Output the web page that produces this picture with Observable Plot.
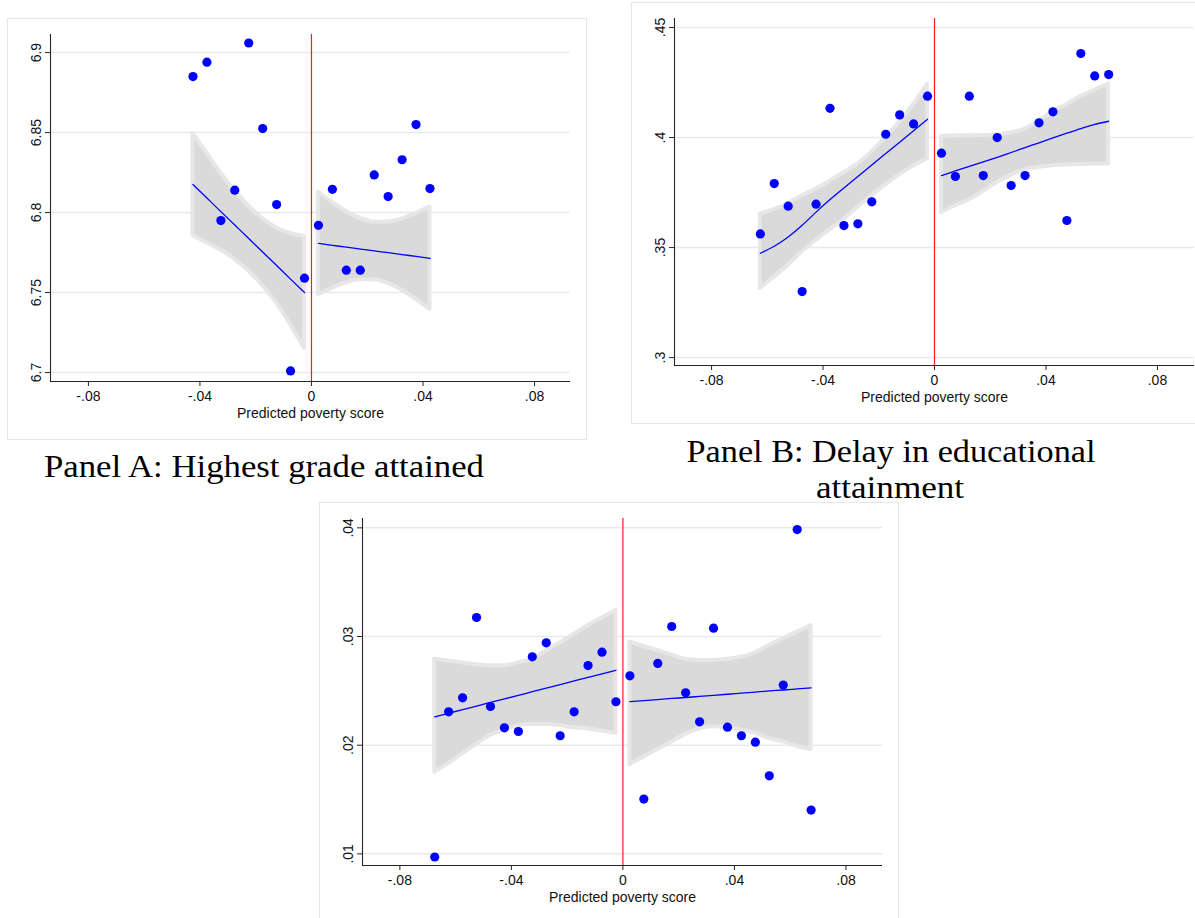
<!DOCTYPE html>
<html><head><meta charset="utf-8">
<script src="https://cdn.jsdelivr.net/npm/d3@7"></script>
<script src="https://cdn.jsdelivr.net/npm/@observablehq/plot@0.6"></script>
<style>
html,body{margin:0;padding:0;background:#fff;width:1195px;height:918px;overflow:hidden;position:relative}
.panel{position:absolute;border:1px solid #e4e8e9;width:578px;height:420px;background:#fff}
.panel svg{display:block}
#caps{position:absolute;left:0;top:0}
</style></head><body>
<div id="pA" class="panel" style="left:7px;top:18px"></div>
<div id="pB" class="panel" style="left:631px;top:2px"></div>
<div id="pC" class="panel" style="left:319px;top:502px"></div>
<svg id="caps" width="1195" height="918"></svg>
<script>
// ---------- shared ticks ----------
const xTicks = [-0.08, -0.04, 0, 0.04, 0.08];
const xTickLabels = ["-.08", "-.04", "0", ".04", ".08"];
const xTitle = "Predicted poverty score";

// ---------- Panel A: Highest grade attained ----------
const aBinsL = [-0.0425, -0.0375, -0.0325, -0.0275, -0.0225, -0.0175, -0.0125, -0.0075, -0.0025];
const aPtsL  = [6.885, 6.894, 6.795, 6.814, 6.906, 6.8525, 6.805, 6.701, 6.759];
const aFitL  = [6.8175, 6.8091, 6.8006, 6.7922, 6.7838, 6.7753, 6.7669, 6.7584, 6.750];
const aHiL   = [6.8495, 6.8371, 6.8246, 6.8137, 6.8041, 6.7963, 6.7904, 6.7869, 6.785];
const aLoL   = [6.7855, 6.7811, 6.7766, 6.7707, 6.7635, 6.7543, 6.7434, 6.7299, 6.715];
const aBinsR = [0.0025, 0.0075, 0.0125, 0.0175, 0.0225, 0.0275, 0.0325, 0.0375, 0.0425];
const aPtsR  = [6.792, 6.8145, 6.764, 6.764, 6.8235, 6.810, 6.833, 6.855, 6.815];
const aFitR  = [6.7807, 6.7795, 6.7784, 6.7772, 6.776, 6.7749, 6.7737, 6.7726, 6.7714];
const aHiR   = [6.8127, 6.8063, 6.8007, 6.7964, 6.794, 6.7941, 6.796, 6.7994, 6.8034];
const aLoR   = [6.7487, 6.7527, 6.7561, 6.758, 6.758, 6.7557, 6.7514, 6.7458, 6.7394];
const aYTicks = [6.7, 6.75, 6.8, 6.85, 6.9];
const aYLabels = ["6.7", "6.75", "6.8", "6.85", "6.9"];

// ---------- Panel B: Delay in educational attainment ----------
const bBinsL = [-0.0625, -0.0575, -0.0525, -0.0475, -0.0425, -0.0375, -0.0325, -0.0275, -0.0225, -0.0175, -0.0125, -0.0075, -0.0025];
const bPtsL  = [0.3562, 0.3791, 0.3688, 0.330, 0.3697, 0.4133, 0.360, 0.3608, 0.3708, 0.4015, 0.4103, 0.4062, 0.4188];
const bFitL  = [0.3474, 0.3506, 0.3548, 0.3601, 0.3661, 0.3718, 0.3771, 0.3823, 0.3875, 0.3927, 0.3979, 0.4031, 0.4083];
const bHiL   = [0.3653, 0.3672, 0.3700, 0.3735, 0.3766, 0.3802, 0.3840, 0.3880, 0.3935, 0.4000, 0.4070, 0.4150, 0.4242];
const bLoL   = [0.3314, 0.3365, 0.3420, 0.3480, 0.3532, 0.3580, 0.3628, 0.3683, 0.3735, 0.3785, 0.3830, 0.3870, 0.3904];
const bBinsR = [0.0025, 0.0075, 0.0125, 0.0175, 0.0225, 0.0275, 0.0325, 0.0375, 0.0425, 0.0475, 0.0525, 0.0575, 0.0625];
const bPtsR  = [0.3929, 0.3823, 0.4188, 0.3827, 0.400, 0.3782, 0.3827, 0.4067, 0.4117, 0.3623, 0.4382, 0.428, 0.4286];
const bFitR  = [0.3827, 0.3848, 0.3869, 0.3889, 0.3910, 0.3932, 0.3954, 0.3976, 0.3998, 0.4020, 0.4041, 0.4060, 0.4074];
const bHiR   = [0.4005, 0.4007, 0.4008, 0.4009, 0.4011, 0.4022, 0.4038, 0.4075, 0.4117, 0.4150, 0.4186, 0.4215, 0.4243];
const bLoR   = [0.3659, 0.3690, 0.3717, 0.3755, 0.3796, 0.3828, 0.3854, 0.3865, 0.3872, 0.3875, 0.3878, 0.3879, 0.3880];
const bYTicks = [0.3, 0.35, 0.4, 0.45];
const bYLabels = [".3", ".35", ".4", ".45"];

// ---------- Panel C ----------
const cBinsL = [-0.0675, -0.0625, -0.0575, -0.0525, -0.0475, -0.0425, -0.0375, -0.0325, -0.0275, -0.0225, -0.0175, -0.0125, -0.0075, -0.0025];
const cPtsL  = [0.00971, 0.02307, 0.02436, 0.03175, 0.02356, 0.0216, 0.02126, 0.02813, 0.02942, 0.02087, 0.02307, 0.02733, 0.02856, 0.0240];
const cFitL  = [0.02261, 0.02294, 0.02327, 0.0236, 0.02393, 0.02426, 0.02459, 0.02492, 0.02525, 0.02558, 0.02591, 0.02624, 0.02657, 0.0269];
const cHiL   = [0.0279, 0.02775, 0.02757, 0.0274, 0.0273, 0.0273, 0.0276, 0.0279, 0.0287, 0.0294, 0.0302, 0.0310, 0.0317, 0.0324];
const cLoL   = [0.0175, 0.0183, 0.0192, 0.0201, 0.0209, 0.0214, 0.0218, 0.0219, 0.0219, 0.0218, 0.0216, 0.0215, 0.0213, 0.0211];
const cBinsR = [0.0025, 0.0075, 0.0125, 0.0175, 0.0225, 0.0275, 0.0325, 0.0375, 0.0425, 0.0475, 0.0525, 0.0575, 0.0625, 0.0675];
const cPtsR  = [0.02638, 0.01504, 0.02752, 0.03092, 0.02482, 0.02215, 0.03077, 0.02166, 0.02087, 0.02028, 0.01718, 0.02553, 0.03984, 0.01403];
const cFitR  = [0.02400, 0.02410, 0.02420, 0.02430, 0.02439, 0.02449, 0.02459, 0.02469, 0.02479, 0.02489, 0.02499, 0.02508, 0.02518, 0.02528];
const cHiR   = [0.0295, 0.0291, 0.0287, 0.0283, 0.0279, 0.0278, 0.0278, 0.0279, 0.0281, 0.0285, 0.0292, 0.0298, 0.0304, 0.0310];
const cLoR   = [0.0182, 0.0189, 0.0196, 0.0203, 0.0210, 0.0215, 0.0217, 0.0216, 0.0214, 0.0211, 0.0206, 0.0203, 0.0199, 0.0196];
const cYTicks = [0.01, 0.02, 0.03, 0.04];
const cYLabels = [".01", ".02", ".03", ".04"];

// ---------- captions ----------
const captions = [
  {text: "Panel A: Highest grade attained", x: 264, y: 477, w: 440},
  {text: "Panel B: Delay in educational", x: 891, y: 462, w: 409},
  {text: "attainment", x: 890, y: 498, w: 148}
];

const BLUE = "#0000ff", RED = "#ff1a1a", GRID = "#e3ebee", BAND = "#dadada", RIM = "#e7e7e7", AXIS = "#262626";
const FS = 14;

function table(bins, pts, fit, hi, lo) {
  return bins.map((x, i) => ({x, pt: pts[i], fit: fit[i], hi: hi[i], lo: lo[i]}));
}

function drawPanel(id, cfg) {
  const L = table(cfg.binsL, cfg.ptsL, cfg.fitL, cfg.hiL, cfg.loL);
  const R = table(cfg.binsR, cfg.ptsR, cfg.fitR, cfg.hiR, cfg.loR);
  const xl = new Map(xTicks.map((t, i) => [t, xTickLabels[i]]));
  const yl = new Map(cfg.yTicks.map((t, i) => [t, cfg.yLabels[i]]));
  const band = (D) => Plot.areaY(D, {x: "x", y1: "lo", y2: "hi", fill: BAND, stroke: RIM, strokeWidth: 4, curve: "monotone-x"});
  const fit = (D) => Plot.line(D, {x: "x", y: "fit", stroke: BLUE, strokeWidth: 1.3, curve: "monotone-x"});
  const chart = Plot.plot({
    width: 578, height: 420,
    marginLeft: 42, marginRight: 16, marginTop: 15, marginBottom: 58,
    style: {fontFamily: "'Liberation Sans', Arial, Helvetica, sans-serif", fontSize: FS + "px", color: "#111", background: "transparent", overflow: "visible"},
    x: {domain: cfg.xDomain, label: null},
    y: {domain: cfg.yDomain, label: null},
    marks: [
      Plot.ruleY(cfg.yTicks, {stroke: GRID, strokeWidth: 1.5}),
      Plot.ruleX([0], {stroke: RED, strokeWidth: 1.2}),
      band(L), band(R),
      fit(L), fit(R),
      Plot.dot(L, {x: "x", y: "pt", r: 4.6, fill: BLUE}),
      Plot.dot(R, {x: "x", y: "pt", r: 4.6, fill: BLUE}),
      Plot.ruleY([cfg.yDomain[0]], {stroke: AXIS, strokeWidth: 1.1}),
      Plot.ruleX([cfg.xDomain[0]], {stroke: AXIS, strokeWidth: 1.1}),
      Plot.axisX({ticks: xTicks, tickFormat: d => xl.get(d), tickSize: 5, tickPadding: 5, label: null, stroke: AXIS, fontSize: FS}),
      Plot.axisY({ticks: cfg.yTicks, tickFormat: () => "", tickSize: 5, label: null, stroke: AXIS}),
      Plot.text(cfg.yTicks, {y: d => d, text: d => yl.get(d), frameAnchor: "left", dx: -10, rotate: -90, textAnchor: "middle", lineAnchor: "bottom", fontSize: FS}),
      Plot.text([xTitle], {frameAnchor: "bottom", dy: 32, lineAnchor: "middle", fontSize: 14})
    ]
  });
  document.getElementById(id).appendChild(chart);
}

drawPanel("pA", {binsL: aBinsL, ptsL: aPtsL, fitL: aFitL, hiL: aHiL, loL: aLoL,
  binsR: aBinsR, ptsR: aPtsR, fitR: aFitR, hiR: aHiR, loR: aLoR,
  yTicks: aYTicks, yLabels: aYLabels, xDomain: [-0.0936, 0.0929], yDomain: [6.6944, 6.9113]});
drawPanel("pB", {binsL: bBinsL, ptsL: bPtsL, fitL: bFitL, hiL: bHiL, loL: bLoL,
  binsR: bBinsR, ptsR: bPtsR, fitR: bFitR, hiR: bHiR, loR: bLoR,
  yTicks: bYTicks, yLabels: bYLabels, xDomain: [-0.0933, 0.0933], yDomain: [0.2964, 0.4541]});
drawPanel("pC", {binsL: cBinsL, ptsL: cPtsL, fitL: cFitL, hiL: cHiL, loL: cLoL,
  binsR: cBinsR, ptsR: cPtsR, fitR: cFitR, hiR: cHiR, loR: cLoR,
  yTicks: cYTicks, yLabels: cYLabels, xDomain: [-0.0934, 0.0931], yDomain: [0.00893, 0.04086]});

const caps = d3.select("#caps");
caps.selectAll("text").data(captions).join("text")
  .attr("x", d => d.x).attr("y", d => d.y)
  .attr("text-anchor", "middle")
  .attr("font-family", "'Liberation Serif', 'Times New Roman', serif")
  .attr("font-size", 32.5).attr("fill", "#000")
  .attr("textLength", d => d.w).attr("lengthAdjust", "spacingAndGlyphs")
  .text(d => d.text);
</script>
</body></html>
